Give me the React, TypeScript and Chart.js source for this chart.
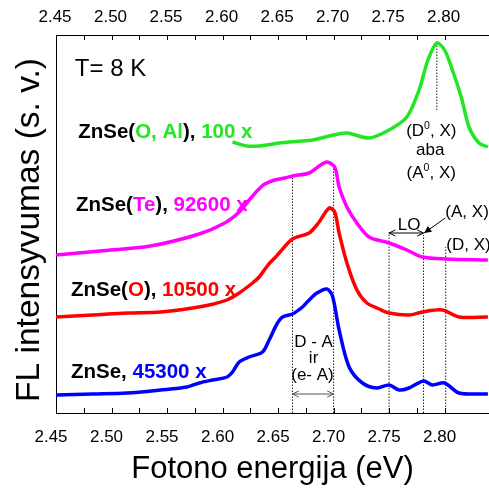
import { useEffect, useRef } from 'react';
import { Chart, registerables } from 'chart.js';
Chart.register(...registerables);

const FONT = "'Liberation Sans', Arial, sans-serif";
const GREEN = '#22e622';
const MAGENTA = '#ff00ff';
const RED = '#ff0000';
const BLUE = '#0000ff';

// photon energy (eV) and intensity (arb. units, offset stacked)
const greenX = [2.609, 2.622, 2.633, 2.651, 2.681, 2.696, 2.712, 2.732, 2.750, 2.766, 2.777, 2.785, 2.793, 2.800, 2.807, 2.815, 2.822, 2.831, 2.839];
const greenY = [271, 267, 267, 270, 273, 277, 280, 275, 283, 296, 323, 353, 370, 363, 343, 316, 286, 270, 266];

const magentaX = [2.450, 2.490, 2.535, 2.579, 2.602, 2.615, 2.624, 2.632, 2.638, 2.647, 2.656, 2.663, 2.678, 2.687, 2.694, 2.701, 2.705, 2.712, 2.721, 2.732, 2.750, 2.766, 2.780, 2.801, 2.839];
const magentaY = [158, 162, 167, 179, 190, 201, 213, 223, 229, 233, 235, 237, 240, 247, 251, 246, 226, 206, 190, 176, 170, 163, 156, 154, 153];

const redX = [2.450, 2.483, 2.514, 2.544, 2.573, 2.588, 2.604, 2.615, 2.627, 2.633, 2.641, 2.647, 2.651, 2.663, 2.678, 2.687, 2.696, 2.701, 2.705, 2.712, 2.721, 2.730, 2.741, 2.750, 2.768, 2.780, 2.798, 2.813, 2.839];
const redY = [96, 98, 100, 101, 105, 108, 113, 120, 130, 136, 148, 155, 160, 174, 180, 191, 205, 201, 180, 150, 123, 110, 104, 100, 98, 101, 103, 96, 96];

const blueX = [2.450, 2.483, 2.514, 2.544, 2.568, 2.579, 2.591, 2.604, 2.609, 2.615, 2.624, 2.636, 2.642, 2.649, 2.654, 2.663, 2.672, 2.678, 2.685, 2.694, 2.699, 2.705, 2.714, 2.726, 2.739, 2.750, 2.759, 2.768, 2.781, 2.789, 2.800, 2.813, 2.839];
const blueY = [18, 19, 20, 23, 26, 30, 33, 36, 41, 51, 56, 61, 73, 89, 96, 99, 106, 113, 120, 124, 117, 83, 46, 30, 25, 28, 23, 25, 32, 28, 30, 20, 19];

// dotted marker lines
const dottedX = [2.663, 2.700, 2.750, 2.781, 2.801, 2.793];
const dottedTop = [237, 246, 181, 178, 166, 370];
const dottedBottom = [0, 0, 0, 0, 0, 303];

const xMin = 2.45;
const xMax = 2.84;
const yMin = 0;
const yMax = 378;

type Seg = [string, string, number?];
type Label = { x: number; y: number; align: 'left' | 'center'; size: number; bold: boolean; segs: Seg[] };

const sampleLabels: Label[] = [
  { x: 2.470, y: 275, align: 'left', size: 20.5, bold: true, segs: [['ZnSe(', '#000'], ['O, Al', GREEN], ['), ', '#000'], ['100 x', GREEN]] },
  { x: 2.468, y: 202, align: 'left', size: 20.5, bold: true, segs: [['ZnSe(', '#000'], ['Te', MAGENTA], ['), ', '#000'], ['92600 x', MAGENTA]] },
  { x: 2.4635, y: 117, align: 'left', size: 20.5, bold: true, segs: [['ZnSe(', '#000'], ['O', RED], ['), ', '#000'], ['10500 x', RED]] },
  { x: 2.4635, y: 35, align: 'left', size: 20.5, bold: true, segs: [['ZnSe, ', '#000'], ['45300 x', BLUE]] },
];

const noteLabels: Label[] = [
  { x: 2.467, y: 337, align: 'left', size: 24, bold: false, segs: [['T= 8 K', '#000']] },
  { x: 2.788, y: 277, align: 'center', size: 17, bold: false, segs: [['(D', '#000'], ['0', '#000', 1], [', X)', '#000']] },
  { x: 2.787, y: 258, align: 'center', size: 17, bold: false, segs: [['aba', '#000']] },
  { x: 2.788, y: 235, align: 'center', size: 17, bold: false, segs: [['(A', '#000'], ['0', '#000', 1], [', X)', '#000']] },
  { x: 2.768, y: 183, align: 'center', size: 17, bold: false, segs: [['LO', '#000']] },
  { x: 2.8007, y: 196, align: 'left', size: 17, bold: false, segs: [['(A, X)', '#000']] },
  { x: 2.8016, y: 163, align: 'left', size: 17, bold: false, segs: [['(D, X)', '#000']] },
  { x: 2.682, y: 66, align: 'center', size: 17, bold: false, segs: [['D - A', '#000']] },
  { x: 2.682, y: 50, align: 'center', size: 17, bold: false, segs: [['ir', '#000']] },
  { x: 2.681, y: 33, align: 'center', size: 17, bold: false, segs: [['(e- A)', '#000']] },
];

// arrows
const doubleArrowsX0 = [2.750, 2.663];
const doubleArrowsX1 = [2.781, 2.700];
const doubleArrowsY = [180, 19];
const doubleArrowsColor = ['#000', '#555'];
const pointerFrom = [2.8007, 195];
const pointerTo = [2.7815, 180];

const X_TITLE = 'Fotono energija (eV)';
const Y_TITLE = 'FL intensyvumas (s. v.)';

function zip(xs: number[], ys: number[]) {
  return xs.map((x, i) => ({ x, y: ys[i] }));
}

function font(size: number, bold: boolean) {
  return `${bold ? 'bold ' : ''}${size}px ${FONT}`;
}

function drawLabel(ctx: CanvasRenderingContext2D, l: Label, px: number, py: number) {
  const parts = l.segs.map(([t, c, sup]) => {
    const sz = sup ? l.size * 0.62 : l.size;
    ctx.font = font(sz, l.bold);
    return { t, c, sz, sup: !!sup, w: ctx.measureText(t).width };
  });
  const total = parts.reduce((a, p) => a + p.w, 0);
  let x = l.align === 'center' ? px - total / 2 : px;
  ctx.textBaseline = 'alphabetic';
  ctx.textAlign = 'left';
  for (const p of parts) {
    ctx.font = font(p.sz, l.bold);
    ctx.fillStyle = p.c;
    ctx.fillText(p.t, x, p.sup ? py - l.size * 0.42 : py);
    x += p.w;
  }
}

function head(ctx: CanvasRenderingContext2D, x: number, y: number, ang: number, len: number, filled: boolean) {
  const a1 = ang + Math.PI - 0.45;
  const a2 = ang + Math.PI + 0.45;
  ctx.beginPath();
  ctx.moveTo(x + len * Math.cos(a1), y + len * Math.sin(a1));
  ctx.lineTo(x, y);
  ctx.lineTo(x + len * Math.cos(a2), y + len * Math.sin(a2));
  if (filled) {
    ctx.closePath();
    ctx.fill();
  } else {
    ctx.stroke();
  }
}

const decorPlugin = {
  id: 'decor',
  afterDraw(chart: any) {
    const ctx: CanvasRenderingContext2D = chart.ctx;
    const xs = chart.scales.x;
    const ys = chart.scales.y;
    const { top, bottom, left, right } = chart.chartArea;
    ctx.save();
    // inward ticks
    ctx.strokeStyle = '#000';
    ctx.lineWidth = 1;
    xs.ticks.forEach((t: any) => {
      const v = t.value;
      if (Math.abs(v * 40 - Math.round(v * 40)) > 1e-6) return;
      const px = Math.round(xs.getPixelForValue(v)) + 0.5;
      if (px <= left + 1 || px >= right - 1) return;
      ctx.beginPath();
      ctx.moveTo(px, bottom);
      ctx.lineTo(px, bottom - 5);
      ctx.moveTo(px, top);
      ctx.lineTo(px, top + 5);
      ctx.stroke();
    });
    // labels
    [...sampleLabels, ...noteLabels].forEach((l) => {
      drawLabel(ctx, l, xs.getPixelForValue(l.x), ys.getPixelForValue(l.y));
    });
    // double arrows
    doubleArrowsX0.forEach((x0, i) => {
      const p0 = xs.getPixelForValue(x0);
      const p1 = xs.getPixelForValue(doubleArrowsX1[i]);
      const py = ys.getPixelForValue(doubleArrowsY[i]);
      ctx.strokeStyle = doubleArrowsColor[i];
      ctx.fillStyle = doubleArrowsColor[i];
      ctx.lineWidth = 1;
      ctx.beginPath();
      ctx.moveTo(p0, py);
      ctx.lineTo(p1, py);
      ctx.stroke();
      head(ctx, p1, py, 0, 7, false);
      head(ctx, p0, py, Math.PI, 7, false);
    });
    // pointer arrow
    const ax0 = xs.getPixelForValue(pointerFrom[0]);
    const ay0 = ys.getPixelForValue(pointerFrom[1]);
    const ax1 = xs.getPixelForValue(pointerTo[0]);
    const ay1 = ys.getPixelForValue(pointerTo[1]);
    ctx.strokeStyle = '#000';
    ctx.fillStyle = '#000';
    ctx.beginPath();
    ctx.moveTo(ax0, ay0);
    ctx.lineTo(ax1, ay1);
    ctx.stroke();
    head(ctx, ax1, ay1, Math.atan2(ay1 - ay0, ax1 - ax0), 8, true);
    // axis titles
    ctx.fillStyle = '#000';
    ctx.font = font(31, false);
    ctx.textAlign = 'center';
    ctx.textBaseline = 'middle';
    ctx.fillText(X_TITLE, (left + right) / 2, bottom + 56);
    ctx.translate(left - 26, (top + bottom) / 2 + 6);
    ctx.rotate(-Math.PI / 2);
    ctx.font = font(33.5, false);
    ctx.fillText(Y_TITLE, 0, 0);
    ctx.restore();
  },
};

export default function App() {
  const ref = useRef<HTMLCanvasElement>(null);
  useEffect(() => {
    document.body.style.margin = '0';
    if (!ref.current) return;
    const curve = (xs: number[], ys: number[], color: string) => ({
      data: zip(xs, ys),
      borderColor: color,
      borderWidth: 3.5,
      pointRadius: 0,
      tension: 0.3,
      fill: false,
    });
    const dotted = dottedX.map((x, i) => ({
      data: [{ x, y: dottedBottom[i] }, { x, y: dottedTop[i] }],
      borderColor: '#222',
      borderWidth: 1,
      borderDash: [1.5, 1.5],
      pointRadius: 0,
      fill: false,
    }));
    const tickCb = (v: any) => {
      const n = Math.round(Number(v) * 1000);
      if (Math.abs(Number(v) * 1000 - n) > 1e-3) return '';
      if (n % 50 !== 0) return '';
      return (n / 1000).toFixed(2);
    };
    const fitX = (h: number) => (s: any) => {
      s.height = h;
      s.paddingLeft = 0;
      s.paddingRight = 0;
    };
    const chart = new Chart(ref.current, {
      type: 'line',
      data: {
        datasets: [
          curve(greenX, greenY, GREEN),
          curve(magentaX, magentaY, MAGENTA),
          curve(redX, redY, RED),
          curve(blueX, blueY, BLUE),
          ...dotted,
        ] as any,
      },
      options: {
        animation: false,
        responsive: false,
        maintainAspectRatio: false,
        layout: { padding: 0 },
        plugins: { legend: { display: false }, tooltip: { enabled: false } },
        scales: {
          x: {
            type: 'linear',
            position: 'bottom',
            min: xMin,
            max: xMax,
            afterFit: fitX(76),
            grid: { display: false, drawTicks: false },
            border: { display: true, color: '#000', width: 1 },
            ticks: {
              stepSize: 0.025,
              autoSkip: false,
              maxRotation: 0,
              padding: 14,
              labelOffset: -5,
              color: '#000',
              font: { family: FONT, size: 17 },
              callback: tickCb,
            },
          },
          x2: {
            type: 'linear',
            position: 'top',
            min: xMin,
            max: xMax,
            afterFit: fitX(35),
            grid: { display: false, drawTicks: false },
            border: { display: true, color: '#000', width: 1 },
            ticks: {
              stepSize: 0.025,
              autoSkip: false,
              maxRotation: 0,
              padding: 7,
              labelOffset: -1,
              color: '#000',
              font: { family: FONT, size: 17 },
              callback: tickCb,
            },
          },
          y: {
            type: 'linear',
            min: yMin,
            max: yMax,
            afterFit: (s: any) => { s.width = 56; s.paddingTop = 0; s.paddingBottom = 0; },
            grid: { display: false, drawTicks: false },
            border: { display: true, color: '#000', width: 1 },
            ticks: { display: false },
          },
        },
      } as any,
      plugins: [decorPlugin],
    });
    return () => chart.destroy();
  }, []);
  return (
    <div style={{ width: 489, height: 489 }}>
      <canvas ref={ref} width={489} height={489} style={{ display: 'block' }} />
    </div>
  );
}
